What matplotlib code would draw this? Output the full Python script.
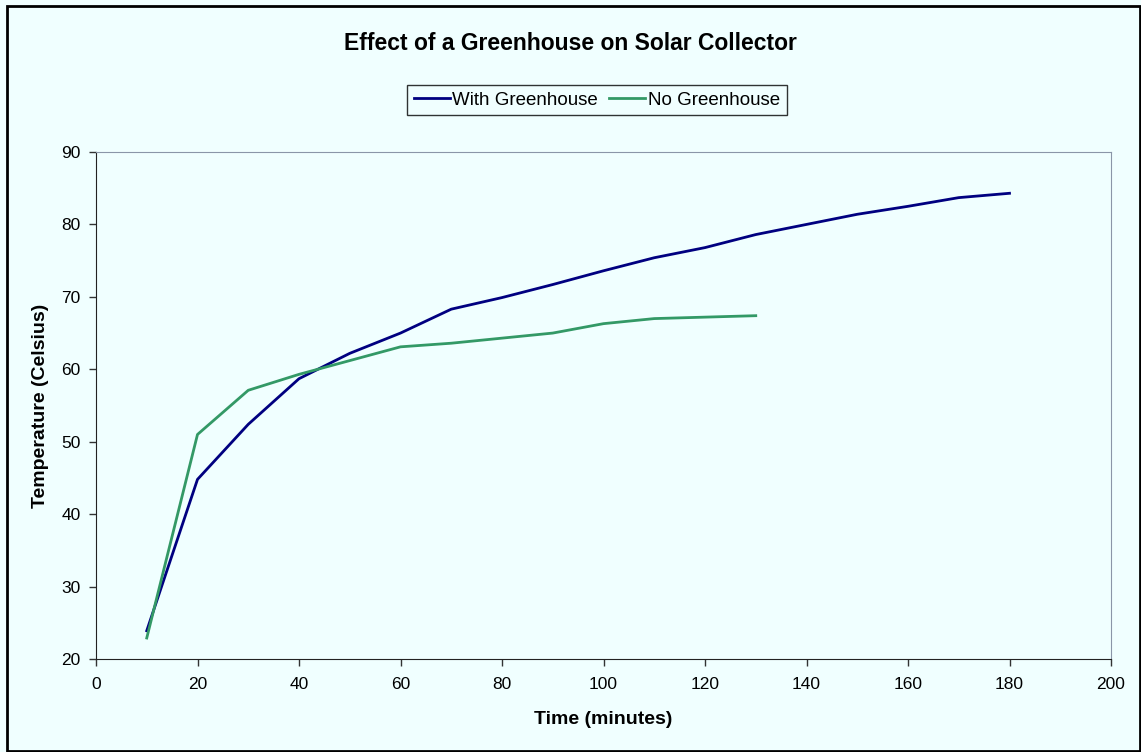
import matplotlib
matplotlib.use("Agg")
import matplotlib.pyplot as plt

# --- Data ---
time_with = [10, 20, 30, 40, 50, 60, 70, 80, 90, 100, 110, 120, 130, 140, 150, 160, 170, 180]
temp_with = [23.9, 44.8, 52.4, 58.7, 62.2, 65.0, 68.3, 69.9, 71.7, 73.6, 75.4, 76.8, 78.6, 80.0, 81.4, 82.5, 83.7, 84.3]

time_none = [10, 20, 30, 40, 50, 60, 70, 80, 90, 100, 110, 120, 130]
temp_none = [22.9, 51.0, 57.1, 59.3, 61.2, 63.1, 63.6, 64.3, 65.0, 66.3, 67.0, 67.2, 67.4]

x_ticks = list(range(0, 201, 20))
y_ticks = list(range(20, 91, 10))

bg = "#F0FFFF"
W, H = 1141, 752
plt.rcParams["font.family"] = ["Liberation Sans", "DejaVu Sans"]

fig = plt.figure(figsize=(W / 100, H / 100), dpi=100, facecolor=bg)
ax = fig.add_axes([96 / W, 1 - 659 / H, (1111 - 96) / W, (659 - 152) / H])
ax.set_facecolor(bg)

ax.plot(time_with, temp_with, color="#000080", linewidth=2.0, label="With Greenhouse")
ax.plot(time_none, temp_none, color="#339966", linewidth=2.0, label="No Greenhouse")

ax.set_xlim(0, 200)
ax.set_ylim(20, 90)
ax.set_xticks(x_ticks)
ax.set_yticks(y_ticks)
ax.tick_params(axis="both", direction="out", length=5, width=1, color="#333333",
               labelsize=12.5)
ax.tick_params(axis="x", pad=8)
ax.tick_params(axis="y", pad=6)

for side in ["top", "right"]:
    ax.spines[side].set_color("#8A96A8")
for side in ["left", "bottom"]:
    ax.spines[side].set_color("#222222")

ax.set_xlabel("Time (minutes)", fontsize=14, fontweight="bold", labelpad=14)
ax.set_ylabel("Temperature (Celsius)", fontsize=14, fontweight="bold", labelpad=9)

fig.text(0.5, 1 - 43 / H, "Effect of a Greenhouse on Solar Collector",
         ha="center", va="center", fontsize=16.5, fontweight="bold")

leg = fig.legend(loc="center", bbox_to_anchor=(597 / W, 1 - 100 / H), ncol=2,
                 fontsize=13.5, frameon=True, fancybox=False, handlelength=1.9,
                 handletextpad=0.15, columnspacing=0.6, borderpad=0.35)
leg.get_frame().set_edgecolor("#000000")
leg.get_frame().set_facecolor(bg)
leg.get_frame().set_linewidth(1.0)

# outer chart border
fig.patches.append(plt.Rectangle((7 / W, 1 / H), 1 - 8 / W, 1 - 7 / H,
                                 transform=fig.transFigure, fill=False,
                                 edgecolor="#000000", linewidth=2))

fig.savefig("out.png", dpi=100, facecolor=bg)
